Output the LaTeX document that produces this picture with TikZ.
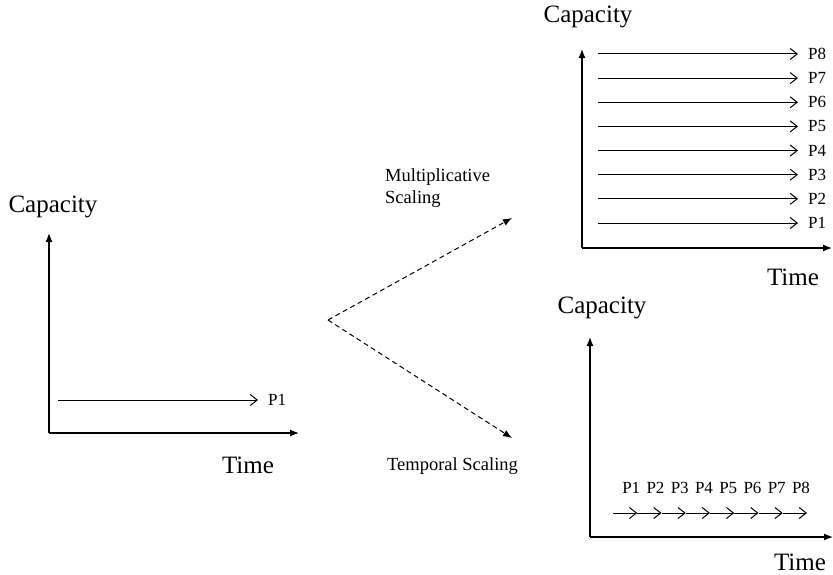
\documentclass[tikz,border=0pt]{standalone}
\usepackage{fontspec}
\setmainfont{Liberation Serif}
\usetikzlibrary{arrows.meta}

\tikzset{
  axis/.style={line width=1.2pt, -{Latex[length=9pt,width=7pt]}},
  proc/.style={line width=1pt, -{Straight Barb[length=7pt,width=11pt]}},
  scaling/.style={line width=1pt, dash pattern=on 5pt off 3.5pt, -{Latex[length=9pt,width=7pt]}},
  axislabel/.style={font=\fontsize{25}{29}\selectfont},
  proclabel/.style={font=\fontsize{17}{20}\selectfont, inner sep=0pt},
  caption/.style={font=\fontsize{18.5}{22}\selectfont, align=left, inner sep=0pt}
}

\begin{document}
\begin{tikzpicture}[x=1pt,y=-1pt]
    \useasboundingbox (0,0) rectangle (833,574);

    % single process
    \coordinate (o1) at (49,433);
    \coordinate (y1) at (49,233);
    \coordinate (x1) at (299,433);
    \draw[axis] (o1) -- (y1);
    \draw[axis] (o1) -- (x1);
    \node[axislabel] (cap1) at (53,207) {Capacity};
    \node[axislabel] (time1) at (248,465) {Time};
    \coordinate (s1) at (58,400);
    \node[proclabel, anchor=west] (p1) at (268,400) {P1};
    \draw[proc] (s1) -- (p1.west -| 258,0);

    % split
    \coordinate (split) at (328,320);
    \coordinate (mult) at (512,218);
    \coordinate (temp) at (512,438);
    \draw[scaling] (split) -- (mult);
    \draw[scaling] (split) -- (temp);
    \node[caption, anchor=west] (multlbl) at (385,188) {Multiplicative\\Scaling};
    \node[caption, anchor=west] (templbl) at (387,466) {Temporal Scaling};

    % multiplicative scaling
    \coordinate (o2) at (582,248);
    \coordinate (y2) at (582,49);
    \coordinate (x2) at (832,248);
    \draw[axis] (o2) -- (y2);
    \draw[axis] (o2) -- (x2);
    \node[axislabel] (cap2) at (588,17) {Capacity};
    \node[axislabel] (time2) at (793,277) {Time};
    \foreach \i in {1,...,8} {
        \coordinate (ms\i) at (598,{223-24.15*(\i-1)});
        \node[proclabel, anchor=west] (mp\i) at (808,{223-24.15*(\i-1)}) {P\i};
        \draw[proc] (ms\i) -- (mp\i.west -| 798,0);
    }

    % temporal scaling
    \coordinate (o3) at (590,537);
    \coordinate (y3) at (590,337);
    \coordinate (x3) at (833,537);
    \draw[axis] (o3) -- (y3);
    \draw[axis] (o3) -- (x3);
    \node[axislabel] (cap3) at (602,308) {Capacity};
    \node[axislabel] (time3) at (800,562) {Time};
    \coordinate (t0) at (613,513);
    \foreach \i [count=\j from 0] in {1,...,8} {
        \coordinate (t\i) at ({613+24.25*\i},513);
        \node[proclabel] (tp\i) at ({607+24.25*\i},488) {P\i};
        \draw[proc] (t\j) -- (t\i);
    }
\end{tikzpicture}
\end{document}
